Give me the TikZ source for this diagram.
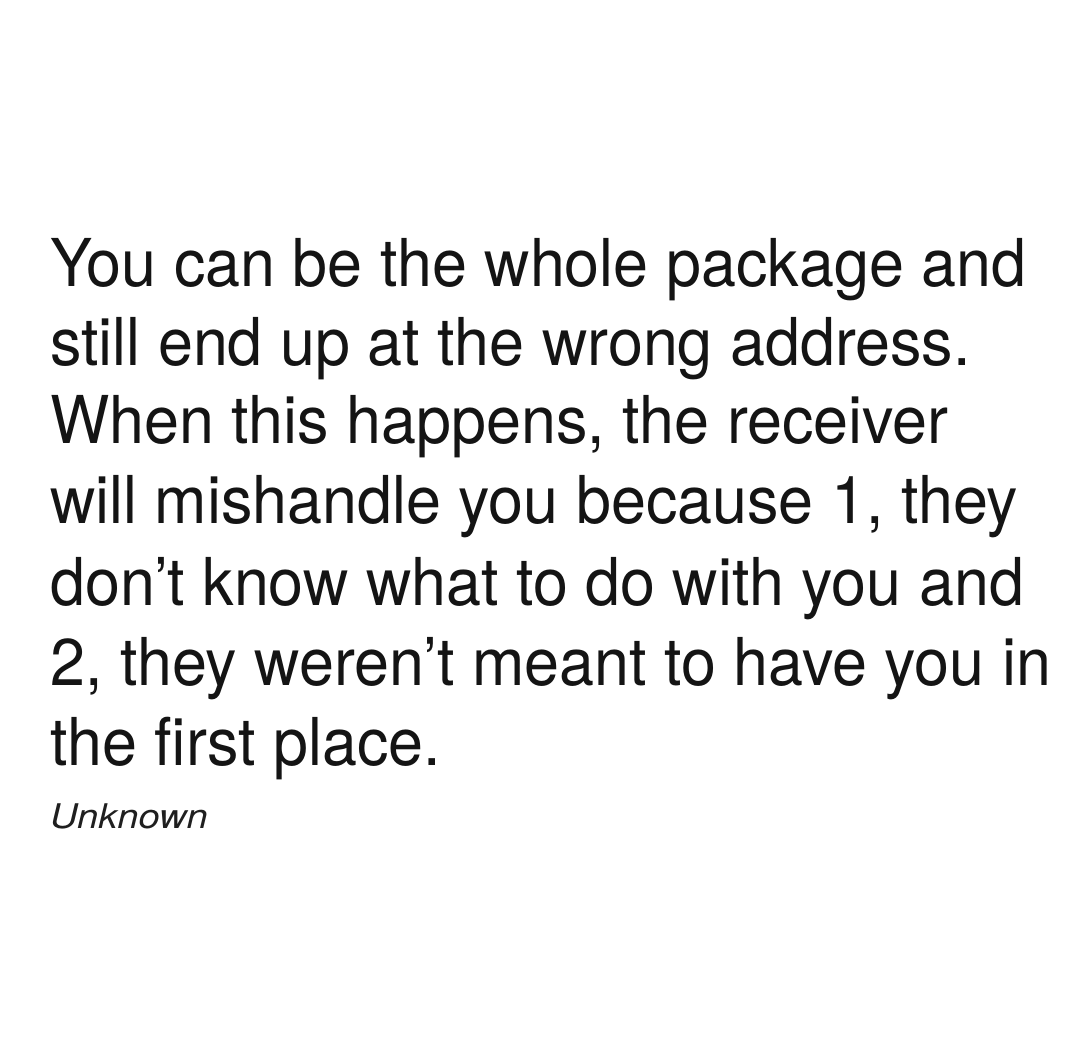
\documentclass[tikz,border=0pt]{standalone}
\usepackage{fontspec}
\setmainfont[FakeStretch=0.952]{TeX Gyre Heros}
\newfontfamily\creditfont[ItalicFont={TeX Gyre Heros Italic}, ItalicFeatures={FakeStretch=1.12}]{TeX Gyre Heros}
\usetikzlibrary{positioning}

\begin{document}
\begin{tikzpicture}[x=1pt, y=1pt,
    quote/.style={anchor=base west, inner sep=0pt, text=black!92, font=\fontsize{66}{80}\selectfont},
    credit/.style={anchor=base west, inner sep=0pt, text=black!88, font=\creditfont\fontsize{34}{40}\selectfont\itshape}]
                \fill[white] (0,0) rectangle (1080,-1041);
                \useasboundingbox (0,0) rectangle (1080,-1041);
                \node[quote] (line1) at (50,-286) {You can be the whole package and};
                \node[quote] (line2) at (50,-365) {still end up at the wrong address.};
                \node[quote] (line3) at (50,-443) {When this happens, the receiver};
                \node[quote] (line4) at (50,-523) {will mishandle you because 1, they};
                \node[quote] (line5) at (50,-605) {don’t know what to do with you and};
                \node[quote] (line6) at (50,-685) {2, they weren’t meant to have you in};
                \node[quote] (line7) at (50,-765) {the first place.};
                \node[credit] (author) at (50,-828) {Unknown};
            \end{tikzpicture}
\end{document}
